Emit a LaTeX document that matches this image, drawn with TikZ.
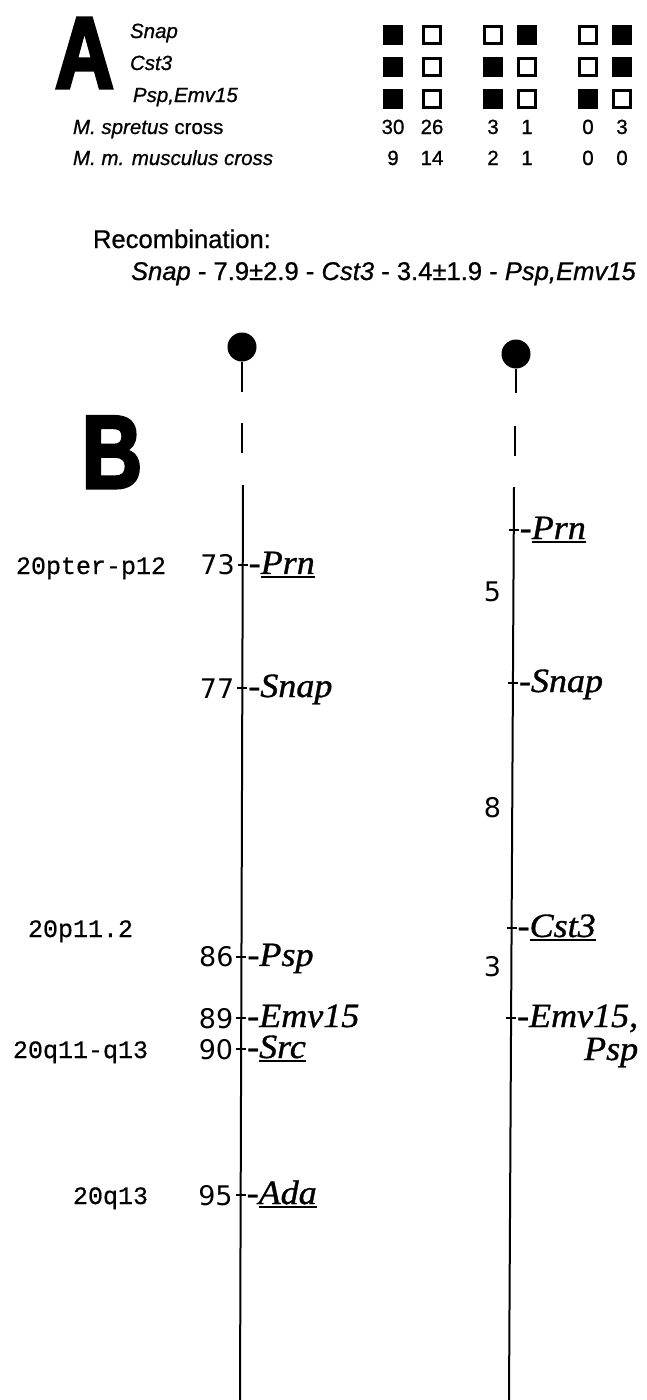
\documentclass[tikz,border=0pt]{standalone}
\usepackage{fontspec}
\setmainfont{Liberation Serif}
\newfontfamily\arialf[FakeBold=0.8]{Liberation Sans}
\newfontfamily\panelf[FakeStretch=0.8,FakeBold=3]{Liberation Sans Bold}
\newfontfamily\monof[FakeBold=0.6]{Liberation Mono}
\newfontfamily\numf{DejaVu Sans}
\newfontfamily\genef[FakeBold=1,FakeStretch=1.06]{Liberation Serif Italic}
\usetikzlibrary{calc}

% underlined gene symbol with a rule scaled to the large label size
\newcommand\genul[1]{\setbox0\hbox{#1}\rlap{\rule[-4pt]{\wd0}{1.6pt}}\box0}

\begin{document}
\begin{tikzpicture}[x=1pt,y=-1pt,
  every node/.style={inner sep=0pt, outer sep=0pt},
  panellabel/.style={font=\panelf\fontsize{102}{102}\selectfont, anchor=base west},
  tgene/.style={font=\arialf\itshape\fontsize{20.5}{24}\selectfont, anchor=base west},
  trow/.style={font=\arialf\fontsize{20.5}{24}\selectfont, anchor=base west},
  tcount/.style={font=\arialf\fontsize{20.5}{24}\selectfont, anchor=base},
  sq1/.style={fill=black, minimum size=20pt},
  sq0/.style={draw=black, line width=3pt, minimum size=17pt},
  recomb/.style={font=\arialf\fontsize{25.6}{28}\selectfont, anchor=base west},
  chrom/.style={line width=2pt},
  centro/.style={circle, fill=black, minimum size=29pt},
  tickmark/.style={line width=2pt},
  gene/.style={font=\genef\fontsize{34}{36}\selectfont, anchor=base west},
  cmpos/.style={font=\numf\fontsize{27}{30}\selectfont, anchor=base east},
  band/.style={font=\monof\fontsize{25}{28}\selectfont, anchor=base west},
]
\fill[white] (0,0) rectangle (647,1400);
\useasboundingbox (0,0) rectangle (647,1400);

% ---------------- Panel A: haplotype table ----------------
\node[panellabel] (pA) at (55,88) {A};
\node[tgene] (tSnap) at (130,38) {Snap};
\node[tgene] (tCst) at (130,70) {Cst3};
\node[tgene] (tPsp) at (133,102) {Psp,Emv15};
\node[trow] (tSpr) at (73,134) {\textit{M. spretus} cross};
\node[trow] (tMus) at (73,165) {\textit{M. m. musculus cross}};

\foreach \x/\a/\b/\c/\m/\n [count=\i] in
  {393/1/1/1/30/9, 432/0/0/0/26/14, 493/0/1/1/3/2,
   527/1/0/0/1/1, 588/0/0/1/0/0, 622/1/1/0/3/0}{
  \node[sq\a] (sqa\i) at (\x,35) {};
  \node[sq\b] (sqb\i) at (\x,67) {};
  \node[sq\c] (sqc\i) at (\x,99) {};
  \node[tcount] (ca\i) at (\x,134) {\m};
  \node[tcount] (cb\i) at (\x,165) {\n};
}

\node[recomb] (rtitle) at (93,248) {Recombination:};
\node[recomb] (rline) at (131,280)
  {\textit{Snap} - 7.9±2.9 - \textit{Cst3} - 3.4±1.9 - \textit{Psp,Emv15}};

% ---------------- Panel B: chromosome maps ----------------
\node[panellabel, font=\panelf\fontsize{104}{104}\selectfont] (pB) at (82,488) {B};

% human-aligned map (left)
\node[centro] (Lcen) at (242,347) {};
\coordinate (Lstem) at (242,392);
\draw[chrom] (Lcen.south) -- (Lstem);
\coordinate (Ld1) at (242,423);
\coordinate (Ld2) at (242,453);
\draw[chrom] (Ld1) -- (Ld2);
\coordinate (Ltop) at (243,485);
\coordinate (Lbot) at (240,1400);
\draw[chrom] (Ltop) --
  coordinate[pos=0.0874] (LPrn)
  coordinate[pos=0.2219] (LSnap)
  coordinate[pos=0.5158] (LPsp)
  coordinate[pos=0.5825] (LEmv)
  coordinate[pos=0.6164] (LSrc)
  coordinate[pos=0.7760] (LAda) (Lbot);
\foreach \m in {LPrn,LSnap,LPsp,LEmv,LSrc,LAda}
  \draw[tickmark] ([xshift=-5pt]\m) -- ([xshift=5pt]\m);

\node[gene] (gLPrn)  at ([xshift=6pt,yshift=-9pt]LPrn)  {-\genul{Prn}};
\node[gene] (gLSnap) at ([xshift=6pt,yshift=-9pt]LSnap) {-Snap};
\node[gene] (gLPsp)  at ([xshift=6pt,yshift=-9pt]LPsp)  {-Psp};
\node[gene] (gLEmv)  at ([xshift=6pt,yshift=-9pt]LEmv)  {-Emv15};
\node[gene] (gLSrc)  at ([xshift=6pt,yshift=-9pt]LSrc)  {-\genul{Src}};
\node[gene] (gLAda)  at ([xshift=6pt,yshift=-9pt]LAda)  {-\genul{Ada}};

\node[cmpos] (nPrn)  at ([xshift=-8pt,yshift=-10pt]LPrn)  {73};
\node[cmpos] (nSnap) at ([xshift=-8pt,yshift=-10pt]LSnap) {77};
\node[cmpos] (nPsp)  at ([xshift=-8pt,yshift=-10pt]LPsp)  {86};
\node[cmpos] (nEmv)  at ([xshift=-8pt,yshift=-10pt]LEmv)  {89};
\node[cmpos] (nSrc)  at ([xshift=-8pt,yshift=-10pt]LSrc)  {90};
\node[cmpos] (nAda)  at ([xshift=-8pt,yshift=-10pt]LAda)  {95};

\node[band] (bPrn) at (16,574)  {20pter-p12};
\node[band] (bP11) at (28,937)  {20p11.2};
\node[band] (bSrc) at (13,1058) {20q11-q13};
\node[band] (bAda) at (73,1204) {20q13};

% mouse chromosome 2 (right)
\node[centro] (Rcen) at (516,354) {};
\coordinate (Rstem) at (516,393);
\draw[chrom] (Rcen.south) -- (Rstem);
\coordinate (Rd1) at (515,426);
\coordinate (Rd2) at (515,456);
\draw[chrom] (Rd1) -- (Rd2);
\coordinate (Rtop) at (514,487);
\coordinate (Rbot) at (509,1400);
\draw[chrom] (Rtop) --
  coordinate[pos=0.0471] (RPrn)
  coordinate[pos=0.2147] (RSnap)
  coordinate[pos=0.4830] (RCst)
  coordinate[pos=0.5816] (REmv) (Rbot);
\foreach \m in {RPrn,RSnap,RCst,REmv}
  \draw[tickmark] ([xshift=-5pt]\m) -- ([xshift=5pt]\m);

\node[gene] (gRPrn)  at ([xshift=6pt,yshift=-9pt]RPrn)  {-\genul{Prn}};
\node[gene] (gRSnap) at ([xshift=6pt,yshift=-9pt]RSnap) {-Snap};
\node[gene] (gRCst)  at ([xshift=6pt,yshift=-9pt]RCst)  {-\genul{Cst3}};
\node[gene] (gREmv)  at ([xshift=6pt,yshift=-9pt]REmv)  {-Emv15,};
\node[gene, anchor=base east] (gRPsp) at ([yshift=-33pt]gREmv.base east) {Psp};

\node[cmpos] (d5) at (501,601) {5};
\node[cmpos] (d8) at (501,817) {8};
\node[cmpos] (d3) at (501,976) {3};
\end{tikzpicture}
\end{document}
